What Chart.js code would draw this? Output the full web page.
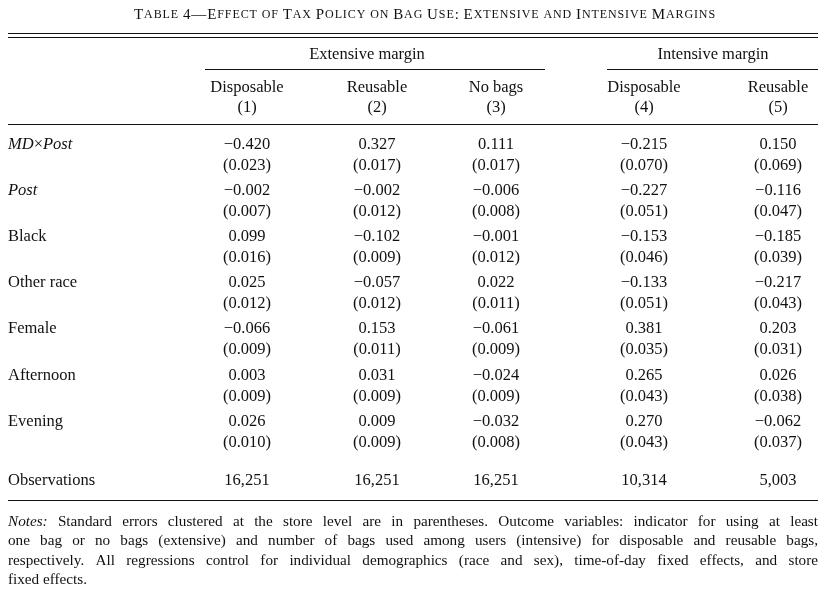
<!DOCTYPE html>
<html>
<head>
<meta charset="utf-8">
<script src="https://cdn.jsdelivr.net/npm/chart.js@4.4.1/dist/chart.umd.min.js"></script>
<style>
  html, body { margin: 0; padding: 0; background: #fff; }
  #wrap { width: 824px; height: 589px; position: relative; }
</style>
</head>
<body>
<div id="wrap"><canvas id="table"></canvas></div>
<script>
// Table content
const rowLabels = ["MD\u00d7Post", "Post", "Black", "Other race", "Female", "Afternoon", "Evening"];
const italicRows = [true, true, false, false, false, false, false];
const colNames = ["Disposable", "Reusable", "No bags", "Disposable", "Reusable"];
const colNums = ["(1)", "(2)", "(3)", "(4)", "(5)"];
const groups = ["Extensive margin", "Intensive margin"];

const coefs = [
  [-0.420, 0.327, 0.111, -0.215, 0.150],
  [-0.002, -0.002, -0.006, -0.227, -0.116],
  [0.099, -0.102, -0.001, -0.153, -0.185],
  [0.025, -0.057, 0.022, -0.133, -0.217],
  [-0.066, 0.153, -0.061, 0.381, 0.203],
  [0.003, 0.031, -0.024, 0.265, 0.026],
  [0.026, 0.009, -0.032, 0.270, -0.062]
];
const stdErrs = [
  [0.023, 0.017, 0.017, 0.070, 0.069],
  [0.007, 0.012, 0.008, 0.051, 0.047],
  [0.016, 0.009, 0.012, 0.046, 0.039],
  [0.012, 0.012, 0.011, 0.051, 0.043],
  [0.009, 0.011, 0.009, 0.035, 0.031],
  [0.009, 0.009, 0.009, 0.043, 0.038],
  [0.010, 0.009, 0.008, 0.043, 0.037]
];
const observations = ["16,251", "16,251", "16,251", "10,314", "5,003"];

const titleText = "Table 4\u2014Effect of Tax Policy on Bag Use: Extensive and Intensive Margins";
const notesLines = [
  [["Notes:", true], [" Standard errors clustered at the store level are in parentheses. Outcome variables: indicator for using at least", false]],
  [["one bag or no bags (extensive) and number of bags used among users (intensive) for disposable and reusable bags,", false]],
  [["respectively. All regressions control for individual demographics (race and sex), time-of-day fixed effects, and store", false]],
  [["fixed effects.", false]]
];

// layout (pixel-like units on the hidden linear scales)
const colX = [247, 377, 496, 644, 778];
const rowY = [145, 191, 237, 283, 329, 376, 422];
const seOffset = 21;
const obsY = 481;
const SERIF = '"Liberation Serif", "DejaVu Serif", serif';
const FS = 16.5;

function fmt(v) {
  const s = Math.abs(v).toFixed(3);
  return (v < 0 ? "\u2212" : "") + s;
}

// one point per table cell
const cellPoints = [];
coefs.forEach((row, r) => row.forEach((v, c) => {
  cellPoints.push({ x: colX[c], y: rowY[r], txt: fmt(v) });
  cellPoints.push({ x: colX[c], y: rowY[r] + seOffset, txt: "(" + stdErrs[r][c].toFixed(3) + ")" });
}));
observations.forEach((v, c) => cellPoints.push({ x: colX[c], y: obsY, txt: v }));

function smallCaps(ctx, text, cx, y, big, small, spacing) {
  const parts = [];
  for (const ch of text) {
    const up = /[A-Z0-9\u2014:]/.test(ch);
    parts.push({ ch: ch.toUpperCase(), size: up ? big : small });
  }
  let w = 0;
  parts.forEach(p => { ctx.font = p.size + "px " + SERIF; p.w = ctx.measureText(p.ch).width + spacing; w += p.w; });
  let x = cx - w / 2;
  ctx.textAlign = "left";
  parts.forEach(p => { ctx.font = p.size + "px " + SERIF; ctx.fillText(p.ch, x, y); x += p.w; });
}

const tablePlugin = {
  id: "tableText",
  afterDatasetsDraw(chart) {
    const ctx = chart.ctx;
    const sx = chart.scales.x, sy = chart.scales.y;
    const X = v => sx.getPixelForValue(v), Y = v => sy.getPixelForValue(v);
    ctx.save();
    ctx.fillStyle = "#111";
    ctx.strokeStyle = "#111";
    ctx.textBaseline = "middle";

    smallCaps(ctx, titleText, X(425), Y(15), 15, 12, 0.9);

    const hline = (x1, x2, y, w) => {
      ctx.lineWidth = w || 1;
      ctx.beginPath(); ctx.moveTo(X(x1), Y(y)); ctx.lineTo(X(x2), Y(y)); ctx.stroke();
    };
    hline(8, 818, 33.5); hline(8, 818, 37.5);
    hline(205, 545, 69.5); hline(607, 818, 69.5);
    hline(8, 818, 124.5); hline(8, 818, 500.5);

    ctx.font = FS + "px " + SERIF;
    ctx.textAlign = "center";
    ctx.fillText(groups[0], X(367), Y(55));
    ctx.fillText(groups[1], X(713), Y(55));
    colNames.forEach((n, i) => {
      ctx.fillText(n, X(colX[i]), Y(88));
      ctx.fillText(colNums[i], X(colX[i]), Y(108));
    });

    // cells
    const meta = chart.getDatasetMeta(0);
    meta.data.forEach((el, i) => ctx.fillText(cellPoints[i].txt, el.x, el.y));

    // row labels
    ctx.textAlign = "left";
    rowLabels.forEach((l, r) => {
      if (r === 0) {
        let x = X(8);
        ctx.font = "italic " + FS + "px " + SERIF; ctx.fillText("MD", x, Y(rowY[r])); x += ctx.measureText("MD").width;
        ctx.font = FS + "px " + SERIF; ctx.fillText("\u00d7", x, Y(rowY[r])); x += ctx.measureText("\u00d7").width;
        ctx.font = "italic " + FS + "px " + SERIF; ctx.fillText("Post", x, Y(rowY[r]));
      } else {
        ctx.font = (italicRows[r] ? "italic " : "") + FS + "px " + SERIF;
        ctx.fillText(l, X(8), Y(rowY[r]));
      }
    });
    ctx.font = FS + "px " + SERIF;
    ctx.fillText("Observations", X(8), Y(obsY));

    // notes, justified except the last line
    const nf = 15.2;
    notesLines.forEach((line, i) => {
      const y = Y(522 + i * 19.5);
      const words = [];
      line.forEach(([t, it]) => {
        t.split(" ").forEach((w, k) => {
          if (w === "") return;
          words.push({ w, it, joined: k === 0 && words.length > 0 && !t.startsWith(" ") });
        });
      });
      let total = 0;
      words.forEach(o => { ctx.font = (o.it ? "italic " : "") + nf + "px " + SERIF; o.width = ctx.measureText(o.w).width; total += o.width; });
      ctx.font = nf + "px " + SERIF;
      const space = ctx.measureText(" ").width;
      const gaps = words.length - 1;
      const last = i === notesLines.length - 1;
      const gap = last ? space : (X(818) - X(8) - total) / gaps;
      let x = X(8);
      words.forEach(o => {
        ctx.font = (o.it ? "italic " : "") + nf + "px " + SERIF;
        ctx.fillText(o.w, x, y);
        x += o.width + gap;
      });
    });
    ctx.restore();
  }
};

new Chart(document.getElementById("table").getContext("2d"), {
  type: "scatter",
  data: {
    datasets: [{
      data: cellPoints.map(p => ({ x: p.x, y: p.y })),
      pointRadius: 0,
      pointHoverRadius: 0
    }]
  },
  options: {
    responsive: true,
    maintainAspectRatio: false,
    animation: false,
    layout: { padding: 0 },
    events: [],
    scales: {
      x: { type: "linear", min: 0, max: 824, display: false },
      y: { type: "linear", min: 0, max: 589, reverse: true, display: false }
    },
    plugins: { legend: { display: false }, tooltip: { enabled: false } }
  },
  plugins: [tablePlugin]
});
</script>
</body>
</html>
